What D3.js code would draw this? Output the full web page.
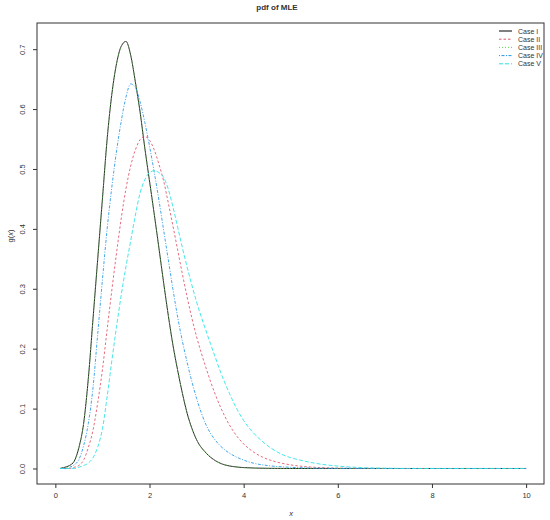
<!DOCTYPE html>
<html>
<head>
<meta charset="utf-8">
<script src="https://cdn.jsdelivr.net/npm/d3@7"></script>
<style>
  body { margin: 0; background: #fff; }
  text { font-family: "Liberation Sans", Arial, sans-serif; fill: #333; }
</style>
</head>
<body>
<div id="chart"></div>
<script>
// values
const caseNames = ['Case I', 'Case II', 'Case III', 'Case IV', 'Case V'];

const xsI = [0.1, 0.2, 0.3, 0.4, 0.5, 0.6, 0.7, 0.8, 0.9, 1.0, 1.1, 1.2, 1.3, 1.4, 1.5, 1.6, 1.7, 1.8, 1.9, 2.0,
  2.1, 2.2, 2.3, 2.4, 2.5, 2.6, 2.7, 2.8, 2.9, 3.0, 3.2, 3.4, 3.6, 3.8, 4.0, 4.5, 5, 6, 7, 8, 9, 10];
const ysI = [0, 0.002, 0.005, 0.012, 0.035, 0.075, 0.15, 0.25, 0.35, 0.45, 0.55, 0.625, 0.676, 0.705, 0.713, 0.69, 0.645, 0.595, 0.535, 0.48,
  0.425, 0.368, 0.31, 0.255, 0.205, 0.163, 0.125, 0.092, 0.067, 0.048, 0.026, 0.013, 0.006, 0.003, 0.0015, 0.0003, 0, 0, 0, 0, 0, 0];

const xsII = [0.1, 0.3, 0.4, 0.5, 0.6, 0.7, 0.8, 0.9, 1.0, 1.1, 1.2, 1.3, 1.4, 1.5, 1.6, 1.7, 1.8, 1.9, 2.0,
  2.1, 2.2, 2.3, 2.4, 2.5, 2.6, 2.7, 2.8, 2.9, 3.0, 3.1, 3.2, 3.4, 3.6, 3.8, 4.0, 4.2, 4.4, 4.6, 4.8, 5.0, 5.5, 6, 6.5, 7, 8, 9, 10];
const ysII = [0, 0, 0.002, 0.005, 0.014, 0.035, 0.064, 0.11, 0.165, 0.232, 0.298, 0.36, 0.418, 0.467, 0.505, 0.532, 0.549, 0.554, 0.548,
  0.532, 0.508, 0.48, 0.443, 0.404, 0.364, 0.324, 0.286, 0.251, 0.22, 0.193, 0.168, 0.123, 0.087, 0.06, 0.041, 0.028, 0.019, 0.013, 0.009, 0.006, 0.002, 0.0007, 0.0002, 0, 0, 0, 0];

// Case III lies on top of Case I
const xsIII = xsI;
const ysIII = ysI;

const xsIV = [0.1, 0.2, 0.3, 0.4, 0.5, 0.6, 0.7, 0.8, 0.9, 1.0, 1.1, 1.2, 1.3, 1.4, 1.5, 1.6, 1.7, 1.8, 1.9, 2.0,
  2.1, 2.2, 2.3, 2.4, 2.5, 2.6, 2.7, 2.8, 2.9, 3.0, 3.1, 3.2, 3.4, 3.6, 3.8, 4.0, 4.2, 4.5, 5, 5.5, 6, 7, 8, 9, 10];
const ysIV = [0, 0, 0.002, 0.006, 0.015, 0.038, 0.075, 0.135, 0.225, 0.315, 0.40, 0.47, 0.53, 0.58, 0.62, 0.642, 0.636, 0.612, 0.578, 0.538,
  0.495, 0.448, 0.398, 0.348, 0.298, 0.252, 0.212, 0.177, 0.145, 0.117, 0.093, 0.073, 0.047, 0.031, 0.021, 0.014, 0.009, 0.005, 0.002, 0.0007, 0.0002, 0, 0, 0, 0];

const xsV = [0.1, 0.4, 0.5, 0.6, 0.7, 0.8, 0.9, 1.0, 1.1, 1.2, 1.3, 1.4, 1.5, 1.6, 1.7, 1.8, 1.9, 2.0,
  2.1, 2.2, 2.3, 2.4, 2.5, 2.6, 2.7, 2.8, 2.9, 3.0, 3.1, 3.2, 3.3, 3.4, 3.5, 3.6, 3.7, 3.8, 4.0, 4.2, 4.4, 4.6, 4.8, 5.0, 5.2, 5.5, 6, 6.5, 7, 7.5, 8, 9, 10];
const ysV = [0, 0, 0.002, 0.005, 0.009, 0.018, 0.036, 0.066, 0.12, 0.18, 0.237, 0.29, 0.337, 0.38, 0.423, 0.46, 0.482, 0.494,
  0.497, 0.494, 0.486, 0.466, 0.436, 0.402, 0.368, 0.336, 0.306, 0.278, 0.253, 0.23, 0.207, 0.185, 0.163, 0.143, 0.125, 0.108, 0.08, 0.06, 0.045, 0.033, 0.024, 0.018, 0.014, 0.009, 0.004, 0.0015, 0.0005, 0, 0, 0, 0];

const xTicks = [0, 2, 4, 6, 8, 10];
const yTicks = [0, 0.1, 0.2, 0.3, 0.4, 0.5, 0.6, 0.7];

const series = [
  { name: caseNames[0], xs: xsI,   ys: ysI,   color: '#000000', dash: null },
  { name: caseNames[1], xs: xsII,  ys: ysII,  color: '#DF536B', dash: '2.5,2' },
  { name: caseNames[2], xs: xsIII, ys: ysIII, color: '#61D04F', dash: '1,2' },
  { name: caseNames[3], xs: xsIV,  ys: ysIV,  color: '#2297E6', dash: '1,1.5,3,1.5' },
  { name: caseNames[4], xs: xsV,   ys: ysV,   color: '#28E2E5', dash: '4,2' }
];

const W = 550, H = 520;
const box = { left: 37, right: 544, top: 23, bottom: 484 };

const x = d3.scaleLinear().domain([-0.39, 10.38]).range([box.left, box.right]);
const y = d3.scaleLinear().domain([-0.0259, 0.7437]).range([box.bottom, box.top]);

const svg = d3.select('#chart').append('svg')
    .attr('width', W)
    .attr('height', H);

const line = d3.line()
    .x(d => x(d[0]))
    .y(d => y(d[1]))
    .curve(d3.curveMonotoneX);

svg.append('g')
    .selectAll('path')
    .data(series)
    .join('path')
      .attr('d', s => line(s.xs.map((v, i) => [v, s.ys[i]])))
      .attr('fill', 'none')
      .attr('stroke', s => s.color)
      .attr('stroke-width', 1)
      .attr('stroke-opacity', 0.85)
      .attr('stroke-dasharray', s => s.dash);

// frame
svg.append('rect')
    .attr('x', box.left)
    .attr('y', box.top)
    .attr('width', box.right - box.left)
    .attr('height', box.bottom - box.top)
    .attr('fill', 'none')
    .attr('stroke', '#333')
    .attr('stroke-width', 1);

const xAxis = svg.append('g')
    .attr('transform', `translate(0,${box.bottom})`)
    .call(d3.axisBottom(x).tickValues(xTicks).tickSize(4).tickPadding(5).tickFormat(d3.format('d')));

const yAxis = svg.append('g')
    .attr('transform', `translate(${box.left},0)`)
    .call(d3.axisLeft(y).tickValues(yTicks).tickSize(4).tickFormat(d3.format('.1f')));

[xAxis, yAxis].forEach(a => {
  a.select('.domain').remove();
  a.selectAll('line').attr('stroke', '#333');
  a.selectAll('text').attr('font-size', 7.5).attr('fill', '#444')
    .style('font-family', '"Liberation Sans", Arial, sans-serif');
});

yAxis.selectAll('text')
    .attr('x', null).attr('dy', null)
    .attr('text-anchor', 'middle')
    .attr('transform', 'translate(-15,0) rotate(-90)')
    .attr('dominant-baseline', 'central');

// title and axis labels
svg.append('text')
    .attr('x', 277).attr('y', 10)
    .attr('text-anchor', 'middle')
    .attr('font-size', 8)
    .attr('font-weight', 'bold')
    .text('pdf of MLE');

svg.append('text')
    .attr('x', 291).attr('y', 516)
    .attr('text-anchor', 'middle')
    .attr('font-size', 7.5)
    .attr('font-style', 'italic')
    .text('x');

const yl = svg.append('text')
    .attr('transform', 'translate(10,236) rotate(-90)')
    .attr('text-anchor', 'middle')
    .attr('dominant-baseline', 'central')
    .attr('font-size', 7.5);
yl.append('tspan').text('g(');
yl.append('tspan').attr('font-style', 'italic').text('x');
yl.append('tspan').text(')');

// legend, no frame
const legend = svg.append('g')
    .selectAll('g')
    .data(series)
    .join('g')
      .attr('transform', (d, i) => `translate(499,${31 + i * 8.2})`);

legend.append('line')
    .attr('x1', 0).attr('x2', 13)
    .attr('stroke', d => d.color)
    .attr('stroke-width', 1)
    .attr('stroke-dasharray', d => d.dash);

legend.append('text')
    .attr('x', 19)
    .attr('dominant-baseline', 'central')
    .attr('font-size', 7)
    .text(d => d.name);
</script>
</body>
</html>
